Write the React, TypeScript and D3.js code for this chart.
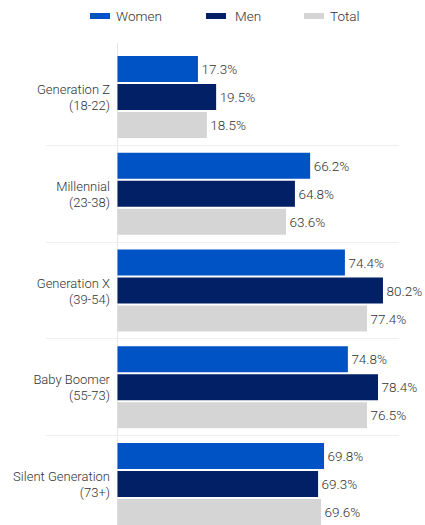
import React from "react";
import * as d3 from "d3";

const categories = ["Generation Z|(18-22)", "Millennial|(23-38)", "Generation X|(39-54)", "Baby Boomer|(55-73)", "Silent Generation|(73+)"];
const seriesNames = ["Women", "Men", "Total"];
// labelled values (%)
const womenValues = [17.3, 66.2, 74.4, 74.8, 69.8];
const menValues = [19.5, 64.8, 80.2, 78.4, 69.3];
const totalValues = [18.5, 63.6, 77.4, 76.5, 69.6];
// bar lengths as drawn in the reference (same % units)
const womenBars = [24.3, 58.2, 68.7, 69.6, 62.4];
const menBars = [29.8, 53.6, 80.2, 78.7, 60.6];
const totalBars = [27.0, 50.9, 75.4, 75.4, 61.5];

const colors = ["#0053c4", "#012065", "#d5d5d5"];
const W = 425, H = 525;
const FONT = "Roboto, sans-serif";
const TEXT = "#333333";

export default function App() {
  const x0 = 117.5;
  const x = d3.scaleLinear().domain([0, 100]).range([x0, x0 + 331]);
  const y = d3.scaleBand().domain(categories).range([48, 48 + 96.75 * 5]).padding(0);
  const yInner = d3.scaleBand().domain(seriesNames).range([0, 82]).paddingInner(1 / 14).paddingOuter(0);
  const values = [womenValues, menValues, totalValues];
  const bars = [womenBars, menBars, totalBars];
  const legendX = [90, 206, 304];
  const legendTextDx = [26, 29, 26];

  return (
    <svg width={W} height={H} style={{ position: "absolute", left: 0, top: 0 }} fontFamily={FONT} fontWeight={300}>
      <rect width={W} height={H} fill="#fff" />
      {seriesNames.map((s, i) => (
        <g key={s}>
          <rect x={legendX[i]} y={13} width={20} height={6} fill={colors[i]} />
          <text x={legendX[i] + legendTextDx[i]} y={20.5} fontSize={13.5} fill={TEXT}>{s}</text>
        </g>
      ))}
      <line x1={x0} x2={x0} y1={43} y2={H} stroke="#e6e6e6" strokeWidth={1} />
      {categories.slice(1).map((c) => (
        <line key={c} x1={46} x2={399} y1={Math.round(y(c) as number) + 0.5} y2={Math.round(y(c) as number) + 0.5} stroke="#eeeeee" strokeWidth={1} />
      ))}
      {categories.map((c, ci) => {
        const gy = (y(c) as number) + 8;
        const [l1, l2] = c.split("|");
        const cy = gy + 41;
        return (
          <g key={c}>
            <text x={110} y={cy - 3} textAnchor="end" fontSize={13} fill={TEXT}>{l1}</text>
            <text x={110} y={cy + 13} textAnchor="end" fontSize={13} fill={TEXT}>{l2}</text>
            {seriesNames.map((s, si) => {
              const by = gy + (yInner(s) as number);
              const bw = yInner.bandwidth();
              const xe = x(bars[si][ci]);
              return (
                <g key={s}>
                  <rect x={x0} y={by} width={xe - x0} height={bw} fill={colors[si]} />
                  <text x={xe + 3.5} y={by + bw / 2 + 5} fontSize={13.5} fill={TEXT}>{values[si][ci].toFixed(1)}%</text>
                </g>
              );
            })}
          </g>
        );
      })}
    </svg>
  );
}
